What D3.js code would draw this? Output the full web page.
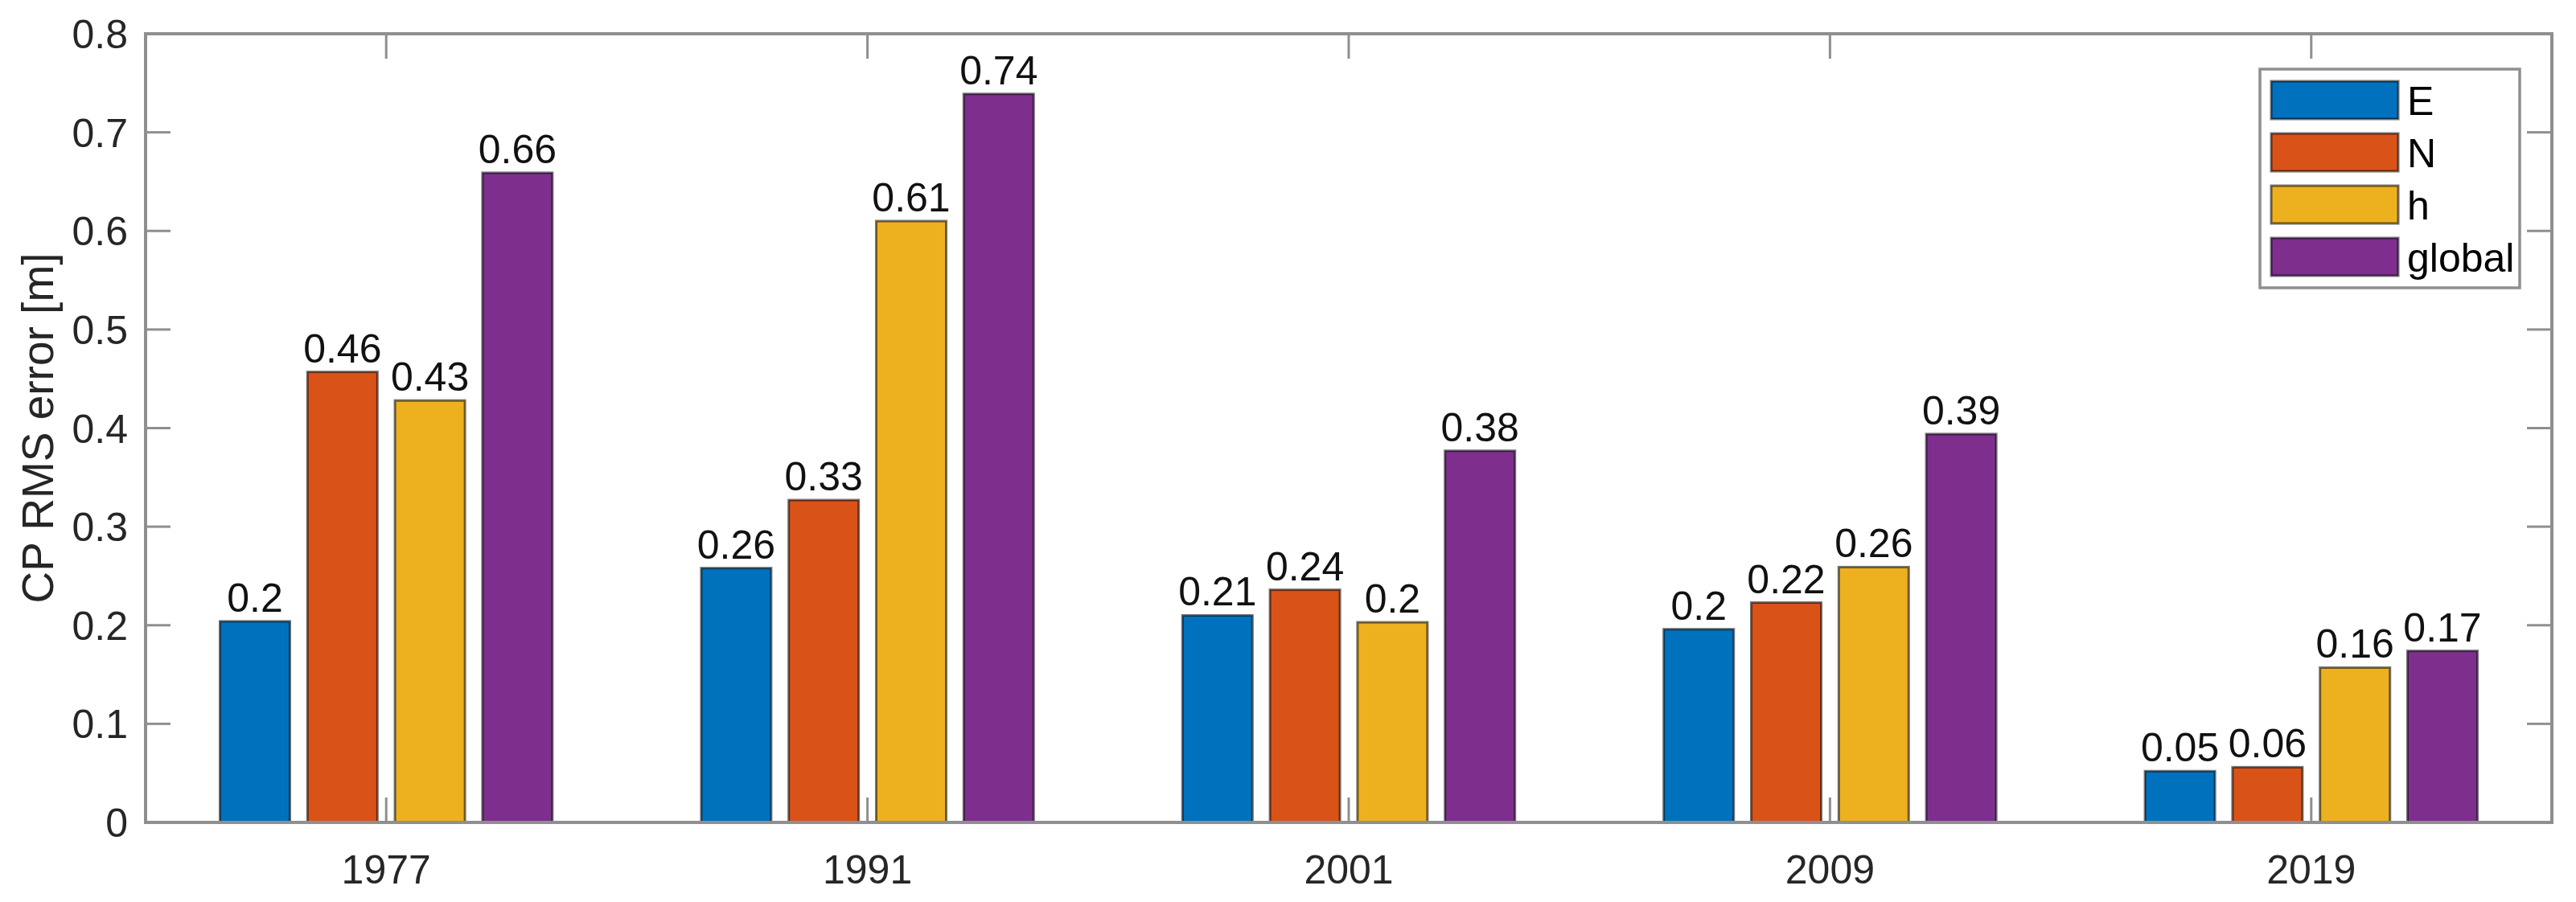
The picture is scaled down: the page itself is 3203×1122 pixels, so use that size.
<!DOCTYPE html>
<html>
<head>
<meta charset="utf-8">
<script src="https://cdn.jsdelivr.net/npm/d3@7"></script>
<style>
  html, body { margin: 0; padding: 0; background: #fff; }
  svg { display: block; }
  text { font-family: "Liberation Sans", Arial, Helvetica, sans-serif; }
</style>
</head>
<body>
<svg id="chart" width="3203" height="1122"></svg>
<script>
// ---- data ----
const categories = ["1977", "1991", "2001", "2009", "2019"];
const seriesNames = ["E", "N", "h", "global"];
const seriesE      = [0.204, 0.258, 0.210, 0.196, 0.052];
const seriesN      = [0.457, 0.327, 0.236, 0.223, 0.056];
const seriesH      = [0.428, 0.610, 0.203, 0.259, 0.157];
const seriesGlobal = [0.659, 0.739, 0.377, 0.394, 0.174];
const seriesColors = ["#0072BD", "#D95319", "#EDB120", "#7E2F8E"];
const yTicks = [0, 0.1, 0.2, 0.3, 0.4, 0.5, 0.6, 0.7, 0.8];
const yLabel = "CP RMS error [m]";

const seriesValues = [seriesE, seriesN, seriesH, seriesGlobal];

// ---- layout ----
const W = 3203, H = 1122;
const plot = { left: 181, right: 3173, top: 42, bottom: 1023 };
const tickLen = 31;
const axisColor = "#8f8f8f";
const textColor = "#262626";

const svg = d3.select("#chart");

const x = d3.scaleBand().domain(categories).range([plot.left, plot.right]).paddingInner(0).paddingOuter(0);
const groupWidth = x.bandwidth() * Math.min(0.8, seriesNames.length / (seriesNames.length + 1.5));
const xs = d3.scaleBand().domain(seriesNames).range([-groupWidth / 2, groupWidth / 2]).paddingInner(0.2).paddingOuter(0.1);
const y = d3.scaleLinear().domain([0, 0.8]).range([plot.bottom, plot.top]);

// ticks (inward, all sides) drawn first
const g = svg.append("g");
const tickG = g.append("g").attr("stroke", axisColor).attr("stroke-width", 3);
yTicks.forEach(t => {
  tickG.append("line").attr("x1", plot.left).attr("x2", plot.left + tickLen).attr("y1", y(t)).attr("y2", y(t));
  tickG.append("line").attr("x1", plot.right).attr("x2", plot.right - tickLen).attr("y1", y(t)).attr("y2", y(t));
});
categories.forEach(c => {
  const cx = x(c) + x.bandwidth() / 2;
  tickG.append("line").attr("x1", cx).attr("x2", cx).attr("y1", plot.bottom).attr("y2", plot.bottom - tickLen);
  tickG.append("line").attr("x1", cx).attr("x2", cx).attr("y1", plot.top).attr("y2", plot.top + tickLen);
});

// bars
const fmt = d3.format(".2~f");
categories.forEach((c, i) => {
  const cx = x(c) + x.bandwidth() / 2;
  seriesNames.forEach((s, j) => {
    const v = seriesValues[j][i];
    const bx = cx + xs(s);
    g.append("rect")
      .attr("x", bx).attr("y", y(v))
      .attr("width", xs.bandwidth()).attr("height", y(0) - y(v))
      .attr("fill", seriesColors[j])
      .attr("stroke", "#000").attr("stroke-opacity", 0.55).attr("stroke-width", 3);
    g.append("text")
      .attr("x", bx + xs.bandwidth() / 2).attr("y", y(v) - 12)
      .attr("text-anchor", "middle")
      .attr("font-size", 50).attr("fill", "#111")
      .text(fmt(v));
  });
});

// axes box
g.append("rect")
  .attr("x", plot.left).attr("y", plot.top)
  .attr("width", plot.right - plot.left).attr("height", plot.bottom - plot.top)
  .attr("fill", "none").attr("stroke", axisColor).attr("stroke-width", 4);

// y tick labels
const yAxisG = svg.append("g");
yTicks.forEach(t => {
  yAxisG.append("text")
    .attr("x", 159).attr("y", y(t)).attr("dy", "0.36em")
    .attr("text-anchor", "end").attr("font-size", 50).attr("fill", textColor)
    .text(d3.format("~g")(t));
});

// x tick labels
categories.forEach(c => {
  svg.append("text")
    .attr("x", x(c) + x.bandwidth() / 2).attr("y", 1099)
    .attr("text-anchor", "middle").attr("font-size", 50).attr("fill", textColor)
    .text(c);
});

// y axis label
svg.append("text")
  .attr("transform", `translate(66, ${(plot.top + plot.bottom) / 2}) rotate(-90)`)
  .attr("text-anchor", "middle").attr("font-size", 55).attr("fill", textColor)
  .text(yLabel);

// legend
const leg = { x: 2810, y: 86, w: 323, h: 272 };
const legG = svg.append("g");
legG.append("rect")
  .attr("x", leg.x).attr("y", leg.y).attr("width", leg.w).attr("height", leg.h)
  .attr("fill", "#fff").attr("stroke", axisColor).attr("stroke-width", 3.5);
seriesNames.forEach((s, j) => {
  const sy = 101 + j * 65;
  legG.append("rect")
    .attr("x", 2824).attr("y", sy).attr("width", 158).attr("height", 47)
    .attr("fill", seriesColors[j])
    .attr("stroke", "#000").attr("stroke-opacity", 0.55).attr("stroke-width", 3);
  legG.append("text")
    .attr("x", 2993).attr("y", sy + 23.5).attr("dy", "0.36em")
    .attr("font-size", 50).attr("fill", "#000")
    .text(s);
});
</script>
</body>
</html>
